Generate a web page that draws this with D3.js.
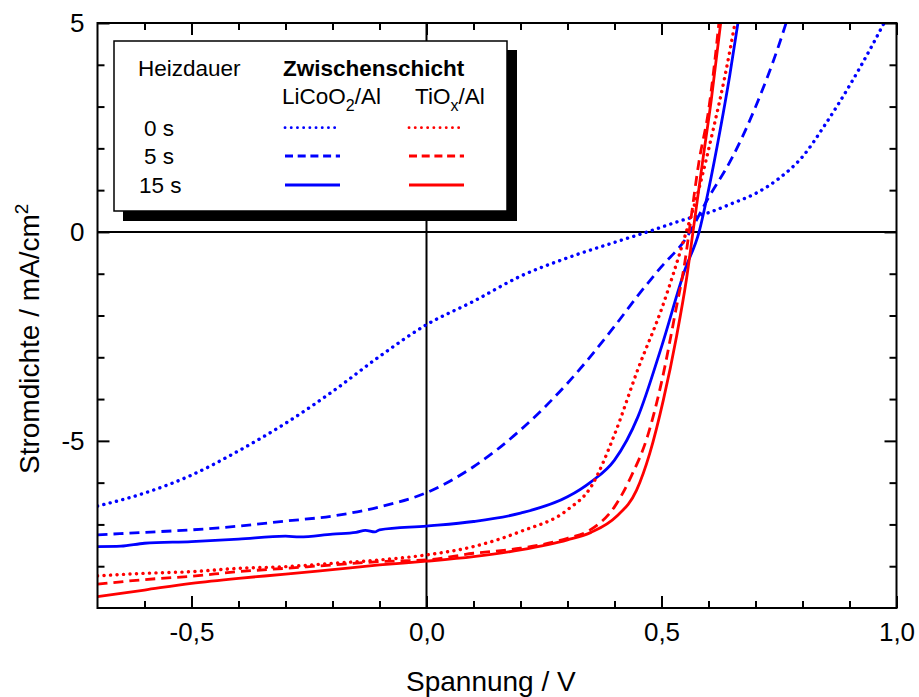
<!DOCTYPE html>
<html>
<head>
<meta charset="utf-8">
<script src="https://cdn.jsdelivr.net/npm/d3@7"></script>
<style>
  html, body { margin: 0; padding: 0; background: #fff; }
  svg { display: block; }
  text { font-family: "Liberation Sans", Arial, sans-serif; fill: #000; }
</style>
</head>
<body>
<svg id="chart" width="919" height="697"></svg>
<script>
// J–V curves: current density (mA/cm²) vs. voltage (V)
const licoo2_0s_V  = [-0.7, -0.6, -0.5, -0.4, -0.3, -0.2, -0.1, 0.0, 0.1, 0.2, 0.3, 0.4, 0.47, 0.55, 0.6, 0.65, 0.7, 0.75, 0.8, 0.85, 0.9, 0.95, 0.978];
const licoo2_0s_J  = [-6.56, -6.25, -5.82, -5.24, -4.58, -3.82, -2.98, -2.22, -1.66, -1.06, -0.62, -0.25, 0.0, 0.3, 0.46, 0.68, 0.92, 1.28, 1.8, 2.6, 3.5, 4.5, 5.1];

const licoo2_5s_V  = [-0.7, -0.6, -0.5, -0.4, -0.3, -0.2, -0.1, 0.0, 0.1, 0.2, 0.3, 0.4, 0.45, 0.5, 0.55, 0.6, 0.65, 0.7, 0.75, 0.768];
const licoo2_5s_J  = [-7.25, -7.19, -7.13, -7.04, -6.92, -6.80, -6.58, -6.24, -5.62, -4.74, -3.62, -2.26, -1.52, -0.83, -0.19, 0.82, 1.77, 2.99, 4.48, 5.1];

const licoo2_15s_V = [-0.7, -0.65, -0.6, -0.5, -0.4, -0.3, -0.27, -0.2, -0.15, -0.13, -0.11, -0.1, 0.0, 0.1, 0.2, 0.3, 0.35, 0.4, 0.45, 0.5, 0.55, 0.58, 0.6, 0.625, 0.645, 0.664];
const licoo2_15s_J = [-7.53, -7.52, -7.45, -7.41, -7.35, -7.28, -7.30, -7.23, -7.19, -7.14, -7.18, -7.13, -7.04, -6.93, -6.73, -6.34, -5.98, -5.46, -4.42, -2.75, -0.9, 0.0, 1.0, 2.45, 3.73, 5.1];

const tiox_0s_V    = [-0.7, -0.6, -0.5, -0.4, -0.3, -0.2, -0.1, 0.0, 0.1, 0.2, 0.3, 0.35, 0.4, 0.45, 0.5, 0.55, 0.58, 0.61, 0.635, 0.658];
const tiox_0s_J    = [-8.23, -8.17, -8.13, -8.05, -8.01, -7.93, -7.85, -7.73, -7.53, -7.17, -6.65, -6.10, -4.85, -3.28, -1.85, -0.1, 1.05, 2.45, 3.73, 5.1];

const tiox_5s_V    = [-0.7, -0.6, -0.5, -0.4, -0.3, -0.2, -0.1, 0.0, 0.1, 0.2, 0.3, 0.35, 0.4, 0.435, 0.47, 0.5, 0.53, 0.55, 0.56, 0.58, 0.6, 0.613, 0.623];
const tiox_5s_J    = [-8.43, -8.32, -8.24, -8.13, -8.05, -7.97, -7.89, -7.85, -7.69, -7.57, -7.33, -7.12, -6.58, -5.86, -4.90, -3.60, -1.90, -0.7, 0.1, 1.7, 2.9, 4.05, 5.1];

const tiox_15s_V   = [-0.7, -0.6, -0.5, -0.4, -0.3, -0.2, -0.1, 0.0, 0.1, 0.2, 0.3, 0.35, 0.404, 0.447, 0.475, 0.504, 0.532, 0.553, 0.567, 0.588, 0.606, 0.627];
const tiox_15s_J   = [-8.73, -8.57, -8.41, -8.29, -8.19, -8.08, -7.97, -7.88, -7.77, -7.61, -7.37, -7.19, -6.81, -6.18, -5.3, -4.02, -2.5, -1.14, 0.0, 1.73, 3.17, 5.1];

// Axis ticks and labels
const xMajorTicks  = [-0.5, 0.0, 0.5, 1.0];
const xMajorLabels = ["-0,5", "0,0", "0,5", "1,0"];
const xMinorTicks  = [-0.6, -0.4, -0.3, -0.2, -0.1, 0.1, 0.2, 0.3, 0.4, 0.6, 0.7, 0.8, 0.9];
const yMajorTicks  = [-5, 0, 5];
const yMajorLabels = ["-5", "0", "5"];
const yMinorTicks  = [-8, -7, -6, -4, -3, -2, -1, 1, 2, 3, 4];

const heatTimes = ["0 s", "5 s", "15 s"];
const layers = ["LiCoO2/Al", "TiOx/Al"];

const series = [
  { layer: 0, time: 0, V: licoo2_0s_V,  J: licoo2_0s_J,  color: "#0000ff" },
  { layer: 0, time: 1, V: licoo2_5s_V,  J: licoo2_5s_J,  color: "#0000ff" },
  { layer: 0, time: 2, V: licoo2_15s_V, J: licoo2_15s_J, color: "#0000ff" },
  { layer: 1, time: 0, V: tiox_0s_V,    J: tiox_0s_J,    color: "#ff0000" },
  { layer: 1, time: 1, V: tiox_5s_V,    J: tiox_5s_J,    color: "#ff0000" },
  { layer: 1, time: 2, V: tiox_15s_V,   J: tiox_15s_J,   color: "#ff0000" }
];

// line style per heating time: dotted, dashed, solid
const styles = [
  { dash: "0.1,6.4", cap: "round", width: 3.4 },
  { dash: "10,6",    cap: "butt",  width: 2.8 },
  { dash: null,      cap: "butt",  width: 2.8 }
];
const legendDash = ["0.1,6.1", "8,4.7", null];

const svg = d3.select("#chart");
const L = 97.5, R = 896.5, T = 23, B = 608;

const x = d3.scaleLinear().domain([-0.7, 1.0]).range([L, R]);
const y = d3.scaleLinear().domain([-9, 5]).range([B, T]);

svg.append("defs").append("clipPath").attr("id", "plotClip")
  .append("rect").attr("x", L).attr("y", T).attr("width", R - L).attr("height", B - T);

// zero lines
svg.append("line").attr("x1", x(0)).attr("x2", x(0)).attr("y1", T).attr("y2", B)
  .attr("stroke", "#000").attr("stroke-width", 2);
svg.append("line").attr("x1", L).attr("x2", R).attr("y1", y(0)).attr("y2", y(0))
  .attr("stroke", "#000").attr("stroke-width", 2);

// curves
const line = d3.line()
  .x(d => x(d[0]))
  .y(d => y(d[1]))
  .curve(d3.curveMonotoneX);

const curves = svg.append("g").attr("clip-path", "url(#plotClip)");
series.forEach(s => {
  const st = styles[s.time];
  curves.append("path")
    .datum(d3.zip(s.V, s.J))
    .attr("d", line)
    .attr("fill", "none")
    .attr("stroke", s.color)
    .attr("stroke-width", st.width)
    .attr("stroke-linecap", st.cap)
    .attr("stroke-linejoin", "round")
    .attr("stroke-dasharray", st.dash);
});

// axes with inward ticks on all four sides
function styleAxis(g) {
  g.select(".domain").remove();
  g.selectAll(".tick line").attr("stroke", "#000").attr("stroke-width", 2);
  g.selectAll(".tick text").style("font-size", "26px").attr("fill", "#000")
    .style("font-family", "'Liberation Sans', Arial, sans-serif");
}

svg.append("g").attr("transform", `translate(0,${B})`)
  .call(d3.axisBottom(x).tickValues(xMinorTicks).tickSize(-7).tickFormat(""))
  .call(styleAxis);
svg.append("g").attr("transform", `translate(0,${B})`)
  .call(d3.axisBottom(x).tickValues(xMajorTicks).tickSize(-12).tickPadding(15)
    .tickFormat((d, i) => xMajorLabels[i]))
  .call(styleAxis);
svg.append("g").attr("transform", `translate(0,${T})`)
  .call(d3.axisTop(x).tickValues(xMinorTicks).tickSize(-7).tickFormat(""))
  .call(styleAxis);
svg.append("g").attr("transform", `translate(0,${T})`)
  .call(d3.axisTop(x).tickValues(xMajorTicks).tickSize(-12).tickFormat(""))
  .call(styleAxis);

svg.append("g").attr("transform", `translate(${L},0)`)
  .call(d3.axisLeft(y).tickValues(yMinorTicks).tickSize(-7).tickFormat(""))
  .call(styleAxis);
svg.append("g").attr("transform", `translate(${L},0)`)
  .call(d3.axisLeft(y).tickValues(yMajorTicks).tickSize(-12).tickPadding(13)
    .tickFormat((d, i) => yMajorLabels[i]))
  .call(styleAxis);
svg.append("g").attr("transform", `translate(${R},0)`)
  .call(d3.axisRight(y).tickValues(yMinorTicks).tickSize(-7).tickFormat(""))
  .call(styleAxis);
svg.append("g").attr("transform", `translate(${R},0)`)
  .call(d3.axisRight(y).tickValues(yMajorTicks).tickSize(-12).tickFormat(""))
  .call(styleAxis);

// frame
svg.append("rect").attr("x", L).attr("y", T).attr("width", R - L).attr("height", B - T)
  .attr("fill", "none").attr("stroke", "#000").attr("stroke-width", 2);

// axis titles
svg.append("text").attr("x", 406).attr("y", 691)
  .style("font-size", "28px").text("Spannung / V");

const yTitle = svg.append("text")
  .attr("transform", "translate(39,474) rotate(-90)")
  .style("font-size", "28px");
yTitle.append("tspan").text("Stromdichte / mA/cm");
yTitle.append("tspan").attr("dy", -11).style("font-size", "19px").text("2");

// legend with drop shadow
const lg = svg.append("g");
lg.append("rect").attr("x", 123).attr("y", 50).attr("width", 394).attr("height", 171).attr("fill", "#000");
lg.append("rect").attr("x", 114).attr("y", 41).attr("width", 393).attr("height", 170)
  .attr("fill", "#fff").attr("stroke", "#000").attr("stroke-width", 1.5);

const legendFont = "22.5px";
lg.append("text").attr("x", 138).attr("y", 76).style("font-size", legendFont).text("Heizdauer");
lg.append("text").attr("x", 283).attr("y", 76).style("font-size", legendFont)
  .style("font-weight", "bold").text("Zwischenschicht");

const layerX = [282, 415];
layers.forEach((name, i) => {
  const t = lg.append("text").attr("x", layerX[i]).attr("y", 104).style("font-size", legendFont);
  const base = name.slice(0, name.indexOf("/") - 1);
  const sub = name.charAt(name.indexOf("/") - 1);
  t.append("tspan").text(base);
  t.append("tspan").attr("dy", 7).style("font-size", "16px").text(sub);
  t.append("tspan").attr("dy", -7).text(name.slice(name.indexOf("/")));
});

const rowY = [127.7, 156, 185];
const timeX = [144, 144, 139];
heatTimes.forEach((t, i) => {
  lg.append("text").attr("x", timeX[i]).attr("y", rowY[i] + 8).style("font-size", legendFont).text(t);
});

const sampleX = [[285, 340], [409, 464]];
series.forEach(s => {
  lg.append("line")
    .attr("x1", sampleX[s.layer][0]).attr("x2", sampleX[s.layer][1])
    .attr("y1", rowY[s.time]).attr("y2", rowY[s.time])
    .attr("stroke", s.color)
    .attr("stroke-width", s.time === 0 ? 2.8 : 3)
    .attr("stroke-linecap", styles[s.time].cap)
    .attr("stroke-dasharray", legendDash[s.time]);
});
</script>
</body>
</html>
